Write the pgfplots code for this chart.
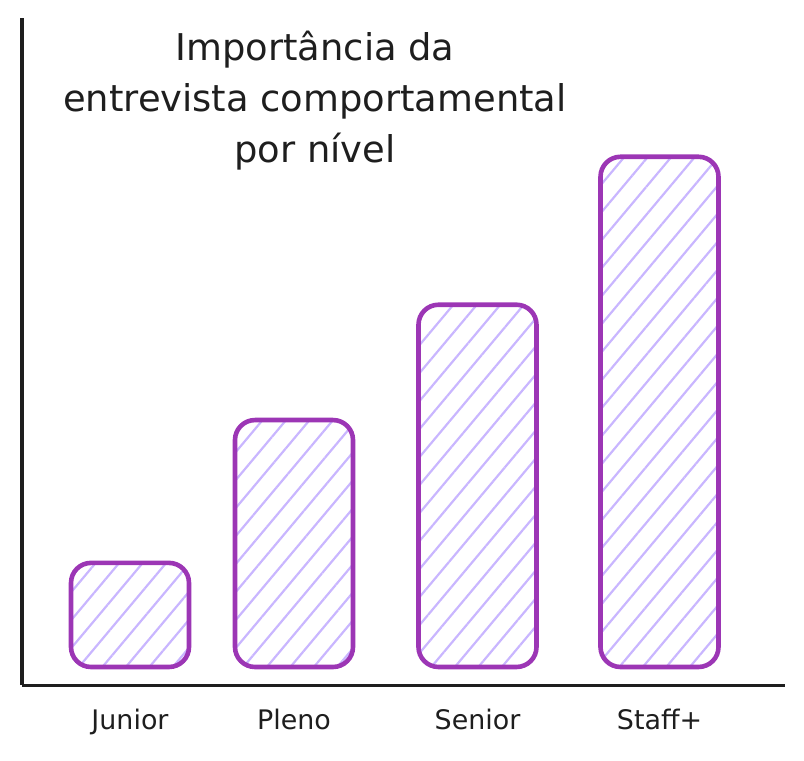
\documentclass[border=0pt]{standalone}
\usepackage{fontspec}
\setmainfont{DejaVu Sans}
\usepackage{pgfplots}
\pgfplotsset{compat=1.18}
\usetikzlibrary{patterns.meta}
\definecolor{barstroke}{HTML}{9C36B5}
\definecolor{hatch}{HTML}{C9B6FF}
\definecolor{ink}{HTML}{1E1E1E}
\begin{document}
\begin{tikzpicture}
\begin{axis}[
  scale only axis,
  width=763bp, height=667bp,
  xmin=22, xmax=785,
  ymin=-0.353, ymax=12.72,
  axis x line=bottom, axis y line=left,
  axis line style={-, ink, line width=3bp},
  xtick={130,294,477.5,659.5},
  xticklabels={Junior,Pleno,Senior,Staff+},
  ytick=\empty,
  major tick length=0pt,
  xticklabel style={font=\fontsize{27}{30}\selectfont, text=ink, yshift=-21bp},
  ybar, bar width=118,
  clip=false,
]
\addplot[draw=barstroke, line width=4.6bp, rounded corners=20bp,
  pattern={Lines[angle=50, distance=18bp, line width=2.2bp]}, pattern color=hatch]
  coordinates {(130,2.04) (294,4.84) (477.5,7.1) (659.5,10.0)};
\node[align=center, font=\fontsize{37}{51}\selectfont, text=ink, anchor=center]
  at (axis cs:315,11.10) {Importância da\\entrevista comportamental\\por nível};
\end{axis}
\path[use as bounding box] (-22bp,-76bp) rectangle (782bp,685bp);
\end{tikzpicture}
\end{document}
